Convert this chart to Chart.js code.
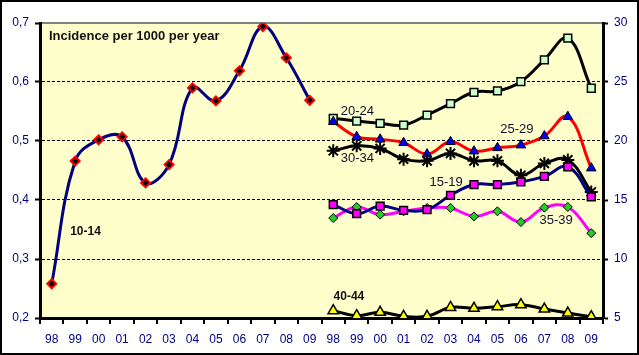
<!DOCTYPE html>
<html><head><meta charset="utf-8">
<script src="https://cdn.jsdelivr.net/npm/chart.js@4/dist/chart.umd.min.js"></script>
<style>
html,body{margin:0;padding:0;background:#fff;}
#wrap{width:639px;height:355px;box-sizing:border-box;border:2px solid #000;background:#fff;}
canvas{display:block;}
</style></head><body>
<div id="wrap"><canvas id="c" width="635" height="351"></canvas></div>
<script>
// ---- data ----
const years = ['98','99','00','01','02','03','04','05','06','07','08','09'];
const categories = years.concat(years);
const leftTicks = [0.2, 0.3, 0.4, 0.5, 0.6, 0.7];
const rightTicks = [5, 10, 15, 20, 25, 30];
const s10_14 = [0.258,0.466,0.502,0.507,0.429,0.460,0.590,0.568,0.619,0.694,0.641,0.569];
const s15_19 = [14.61,13.84,14.49,14.12,14.18,15.40,16.31,16.31,16.53,17.00,17.81,15.26];
const s20_24 = [21.92,21.69,21.50,21.35,22.20,23.16,24.13,24.24,25.03,26.88,28.72,24.47];
const s25_29 = [21.63,20.36,20.14,19.85,18.89,19.93,19.14,19.42,19.65,20.42,22.06,17.70];
const s30_34 = [19.17,19.59,19.37,18.46,18.32,18.95,18.32,18.32,17.10,18.10,18.40,15.68];
const s35_39 = [13.47,14.41,13.76,14.04,14.32,14.32,13.61,14.04,13.13,14.35,14.41,12.19];
const s40_44 = [5.62,5.20,5.48,5.14,5.14,5.90,5.82,5.96,6.13,5.76,5.42,5.11];
const titleText = 'Incidence per 1000 per year';
const seriesNames = ['10-14','15-19','20-24','25-29','30-34','35-39','40-44'];

// ---- helpers ----
const blank = new Array(12).fill(null);
const firstHalf = a => a.concat(blank);
const secondHalf = a => blank.concat(a);
const FONT = "'Liberation Sans', Arial, sans-serif";
const NAVY = '#000080';

// annotation anchors: [text, category index, axis, value, align, bold, size]
const notes = [
  [titleText, -0.12, 'y', 0.678, 'left', true, 13],
  [seriesNames[0], 1.44, 'y', 0.3456, 'center', true, 12],
  [seriesNames[2], 13.03, 'y1', 22.48, 'center', false, 13],
  [seriesNames[4], 13.03, 'y1', 18.52, 'center', false, 13],
  [seriesNames[3], 19.83, 'y1', 20.99, 'center', false, 13],
  [seriesNames[1], 16.81, 'y1', 16.45, 'center', false, 13],
  [seriesNames[5], 21.5, 'y1', 13.27, 'center', false, 13],
  [seriesNames[6], 12.67, 'y1', 6.81, 'center', true, 12]
];

const plotBg = {
  id: 'plotBg',
  beforeDraw(chart) {
    const {ctx, chartArea: a} = chart;
    ctx.save();
    ctx.fillStyle = '#FFFFCC';
    ctx.fillRect(a.left, a.top, a.right - a.left, a.bottom - a.top);
    ctx.restore();
  }
};
const notesPlugin = {
  id: 'notes',
  afterDatasetsDraw(chart) {
    const {ctx, scales} = chart;
    ctx.save();
    ctx.textBaseline = 'middle';
    notes.forEach(([t, ix, ax, v, al, b, sz]) => {
      ctx.font = (b ? 'bold ' : '') + sz + 'px ' + FONT;
      ctx.fillStyle = b ? '#111111' : '#101030';
      ctx.textAlign = al;
      ctx.fillText(t, scales.x.getPixelForValue(ix), scales[ax].getPixelForValue(v));
    });
    ctx.restore();
  }
};

const ds = (label, data, axis, line, style, radius, bg, border, bw) => ({
  label, data, yAxisID: axis, borderColor: line, borderWidth: 3,
  tension: 0.4, fill: false, spanGaps: false,
  pointStyle: style, pointRadius: radius, pointBackgroundColor: bg,
  pointBorderColor: border, pointBorderWidth: bw
});

new Chart(document.getElementById('c'), {
  type: 'line',
  data: {
    labels: categories,
    datasets: [
      ds(seriesNames[1], secondHalf(s15_19), 'y1', '#000080', 'rect', 5.5, '#FF00FF', '#000', 1.5),
      ds(seriesNames[6], secondHalf(s40_44), 'y1', '#000000', 'triangle', 6, '#FFFF00', '#000', 1.5),
      ds(seriesNames[5], secondHalf(s35_39), 'y1', '#FF00FF', 'rectRot', 4.5, '#22CC22', '#000', 1),
      ds(seriesNames[4], secondHalf(s30_34), 'y1', '#000000', 'star', 6.5, '#000', '#000', 2),
      ds(seriesNames[3], secondHalf(s25_29), 'y1', '#FF0000', 'triangle', 5.5, '#0000FF', '#000', 1),
      ds(seriesNames[2], secondHalf(s20_24), 'y1', '#000000', 'rect', 5.5, '#CCFFCC', '#000', 1.5),
      ds(seriesNames[0], firstHalf(s10_14), 'y', '#000080', 'rectRot', 4.5, '#000000', '#FF0000', 2)
    ]
  },
  options: {
    responsive: false,
    devicePixelRatio: 1,
    animation: false,
    layout: {padding: {top: 21, left: 0, right: 0, bottom: 0}},
    plugins: {legend: {display: false}, tooltip: {enabled: false}},
    scales: {
      x: {
        type: 'category', position: 'bottom', offset: true,
        grid: {offset: true, drawOnChartArea: false, drawTicks: true, tickLength: 6, color: '#000', lineWidth: 2},
        border: {display: true, color: '#000', width: 3},
        ticks: {color: NAVY, font: {family: FONT, size: 12}, padding: 8, maxRotation: 0, autoSkip: false},
        afterFit: s => { s.height = 35; }
      },
      x2: {
        type: 'category', position: 'top', offset: true, labels: categories,
        grid: {display: false, drawTicks: false},
        border: {display: true, color: '#808080', width: 2},
        ticks: {display: false},
        afterFit: s => { s.height = 0; }
      },
      y: {
        position: 'left', min: leftTicks[0], max: leftTicks[leftTicks.length - 1],
        afterBuildTicks: s => { s.ticks = leftTicks.map(v => ({value: v})); },
        ticks: {color: NAVY, font: {family: FONT, size: 12}, padding: 6,
          callback: v => Number(v).toFixed(1).replace('.', ',')},
        grid: {
          color: c => (c.tick && (Math.abs(c.tick.value - 0.7) < 1e-6 || Math.abs(c.tick.value - 0.2) < 1e-6)) ? 'rgba(0,0,0,0)' : '#000',
          lineWidth: 1, tickColor: '#000', tickLength: 5, tickWidth: 2
        },
        border: {display: true, color: '#000', width: 3, dash: [3, 2]},
        afterFit: s => { s.width = 38; }
      },
      y1: {
        position: 'right', min: rightTicks[0], max: rightTicks[rightTicks.length - 1],
        afterBuildTicks: s => { s.ticks = rightTicks.map(v => ({value: v})); },
        ticks: {color: NAVY, font: {family: FONT, size: 12}, padding: 6},
        grid: {drawOnChartArea: false, tickColor: '#000', tickLength: 5, tickWidth: 2, color: '#000'},
        border: {display: true, color: '#000', width: 3},
        afterFit: s => { s.width = 34; }
      }
    }
  },
  plugins: [plotBg, notesPlugin]
});
</script>
</body></html>
